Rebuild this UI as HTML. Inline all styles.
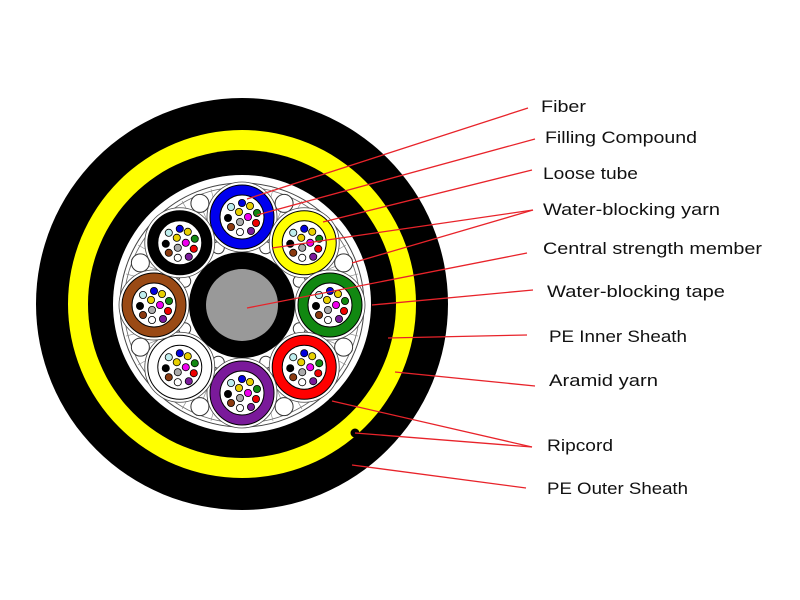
<!DOCTYPE html>
<html><head><meta charset="utf-8"><style>
html,body{margin:0;padding:0;background:#fff;width:800px;height:600px;overflow:hidden}
svg{display:block}
text{font-family:"Liberation Sans",sans-serif;font-size:17px;fill:#111}
</style></head><body>
<svg id="s" width="800" height="600" viewBox="0 0 800 600" xmlns="http://www.w3.org/2000/svg">
<rect width="800" height="600" fill="#fff"/>
<circle cx="242" cy="304" r="206" fill="#000"/>
<circle cx="242" cy="304" r="174" fill="#ffff00"/>
<circle cx="242" cy="304" r="154" fill="#000"/>
<circle cx="242" cy="304" r="129" fill="#fff"/>
<circle cx="242" cy="305" r="122" fill="#fff" stroke="#444" stroke-width="1"/>
<circle cx="242" cy="305" r="118" fill="none" stroke="#666" stroke-width="0.8"/>
<g id="g"></g>
<circle cx="242" cy="305" r="53" fill="#000"/>
<circle cx="242" cy="305" r="36" fill="#999"/>
<circle cx="332" cy="401" r="3.5" fill="#000"/>
<circle cx="355" cy="433" r="4.5" fill="#000"/>
<g stroke="#e8232a" stroke-width="1.3" fill="none">
<line x1="247" y1="199" x2="528" y2="108"/>
<line x1="257" y1="215" x2="535" y2="139"/>
<line x1="323" y1="222" x2="532" y2="170"/>
<line x1="272" y1="248" x2="533" y2="210"/>
<line x1="352" y1="263" x2="533" y2="210"/>
<line x1="247" y1="308" x2="527" y2="253"/>
<line x1="372" y1="305" x2="533" y2="290"/>
<line x1="388" y1="338" x2="527" y2="335"/>
<line x1="395" y1="372" x2="535" y2="386"/>
<line x1="332" y1="401" x2="532" y2="447"/>
<line x1="355" y1="433" x2="532" y2="447"/>
<line x1="352" y1="465" x2="526" y2="488"/>
</g>
<text x="541" y="112" textLength="45" lengthAdjust="spacingAndGlyphs">Fiber</text>
<text x="545" y="143" textLength="152" lengthAdjust="spacingAndGlyphs">Filling Compound</text>
<text x="543" y="179" textLength="95" lengthAdjust="spacingAndGlyphs">Loose tube</text>
<text x="543" y="215" textLength="177" lengthAdjust="spacingAndGlyphs">Water-blocking yarn</text>
<text x="543" y="254" textLength="219" lengthAdjust="spacingAndGlyphs">Central strength member</text>
<text x="547" y="297" textLength="178" lengthAdjust="spacingAndGlyphs">Water-blocking tape</text>
<text x="549" y="342" textLength="138" lengthAdjust="spacingAndGlyphs">PE Inner Sheath</text>
<text x="549" y="386" textLength="109" lengthAdjust="spacingAndGlyphs">Aramid yarn</text>
<text x="547" y="451" textLength="66" lengthAdjust="spacingAndGlyphs">Ripcord</text>
<text x="547" y="494" textLength="141" lengthAdjust="spacingAndGlyphs">PE Outer Sheath</text>
</svg>
<script>
(function(){
var g=document.getElementById('g'),NS='http://www.w3.org/2000/svg';
function c(x,y,r,f,s,w){var e=document.createElementNS(NS,'circle');e.setAttribute('cx',x);e.setAttribute('cy',y);e.setAttribute('r',r);e.setAttribute('fill',f);if(s){e.setAttribute('stroke',s);e.setAttribute('stroke-width',w||1);}g.appendChild(e);}
var cx=242,cy=305,R=88;
// radial lines in band
for(var i=0;i<48;i++){var a=i*Math.PI/24;var l=document.createElementNS(NS,'line');l.setAttribute('x1',cx+60*Math.cos(a));l.setAttribute('y1',cy+60*Math.sin(a));l.setAttribute('x2',cx+120*Math.cos(a));l.setAttribute('y2',cy+120*Math.sin(a));l.setAttribute('stroke','#888');l.setAttribute('stroke-width','0.6');g.appendChild(l);}
// fillers
for(var k=0;k<8;k++){var a=(22.5+45*k)*Math.PI/180;c(cx+110*Math.cos(a),cy+110*Math.sin(a),9,'#fff','#333',1);c(cx+62*Math.cos(a),cy+62*Math.sin(a),6,'#fff','#333',1);}
var cols=['#3a3aff'.replace('3a3aff','0000ee'),'#ffff00','#118811','#ff0000','#7a1a9a','#ffffff','#9a4a15','#000000'];
var angs=[-90,-45,0,45,90,135,180,225];
var dots=[[0,-14,'#0000dd'],[8,-11,'#e8d000'],[15,-4,'#118811'],[14,6,'#ee0000'],[9,14,'#7a1a9a'],[-2,15,'#ffffff'],[-11,10,'#8a3a10'],[-14,1,'#000'],[-11,-10,'#bfeeee'],[-3,-5,'#e8d000'],[6,0,'#ee00ee'],[-2,5,'#aaaaaa']];
for(var k=0;k<8;k++){var a=angs[k]*Math.PI/180,x=cx+R*Math.cos(a),y=cy+R*Math.sin(a);
c(x,y,35,'#fff','#444',0.8);
c(x,y,32,cols[k],'#000',1);
c(x,y,22,'#fff','#000',1);
dots.forEach(function(d){c(x+d[0],y+d[1],3.6,d[2],'#000',0.8);});}
})();
</script>
</body></html>
